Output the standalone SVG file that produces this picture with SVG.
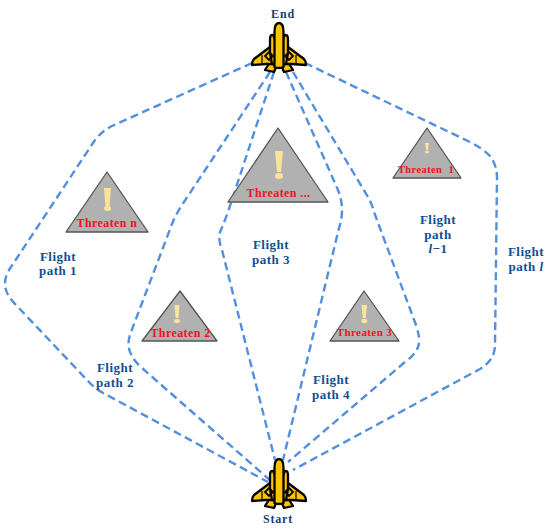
<svg xmlns="http://www.w3.org/2000/svg" width="550" height="531" viewBox="0 0 550 531">
<style>
.p{fill:none;stroke:#528fdc;stroke-width:2.4;stroke-dasharray:8 4.500}
.l{font:bold 13px "Liberation Serif",serif;fill:#0f4f96;letter-spacing:.5px;text-anchor:middle}
.t{font:bold 12px "Liberation Serif",serif;fill:#f5101c;letter-spacing:.4px;text-anchor:middle}
.tri{fill:#b1b1b1;stroke:#555;stroke-width:1.3;stroke-linejoin:round}
.ex{fill:#fbe39a}
.a{fill:#ffc400;stroke:#000;stroke-width:2.300;stroke-linejoin:round}
.n{font:bold 12px "Liberation Serif",serif;fill:#123f78;letter-spacing:.8px;text-anchor:middle}
</style>
<defs>
<g id="plane">
<path class="a" d="M-7 36L-14 47L-5 49L-2 42H2L5 49L14 47L7 36Z"/>
<path class="a" d="M-9 24L-25 36Q-27 38-27 42L-13 41H13L27 42Q27 38 25 36L9 24Z"/>
<path class="a" d="M-9 30V17Q-9 12-7 12Q-5 12-4 17H4Q5 12 7 12Q9 12 9 17V30L7 41H-7Z"/>
<path class="a" d="M-4.500 44V9Q-4.500 0 0 0Q4.500 0 4.500 9V44Q0 46-4.500 44Z"/>
<path d="M-10 29L-6 33L-10 37L-14 33Z" fill="none" stroke="#000" stroke-width="1.800"/>
<path d="M10 29L14 33L10 37L6 33Z" fill="none" stroke="#000" stroke-width="1.800"/>
<path d="M-17 32V41M17 32V41" stroke="#000" stroke-width="1.200"/>
</g>
</defs>
<g id="connectors">
<path class="p" d="M252 63L112 126Q102 131 95 140L9 270Q3 280 6 290Q8 297 16 305L88 381Q95 389 105 394L268 482"/>
<path class="p" d="M270 72L182 205Q176 214 172 224L131 332Q126 345 131 354Q134 361 142 368L272 482"/>
<path class="p" d="M274 72L228 212Q222 228 220 232Q218 240 222 250L275 460"/>
<path class="p" d="M286 72L338 190Q342 200 342 210Q342 220 339 228L283 460"/>
<path class="p" d="M293 72L368 197Q372 204 374 212L416 325Q421 340 418 347Q415 355 405 362L288 462"/>
<path class="p" d="M305 63L470 142Q482 148 490 156Q497 165 497 178L495 345Q495 360 480 369L293 470"/>
</g>
<g id="end"><text class="n" x="283" y="18">End</text><use href="#plane" x="279" y="23"/></g>
<g id="start"><use href="#plane" x="279" y="459"/><text class="n" x="278" y="523">Start</text></g>
<g id="threat-n"><path class="tri" d="M107 172L148 232H66Z"/><path class="ex" d="M104 188H111L109.500 207H105.500Z"/><ellipse class="ex" cx="107.500" cy="208.500" rx="3.500" ry="2.500"/><text class="t" x="107" y="227">Threaten n</text></g>
<g id="threat-dots"><path class="tri" d="M278 128L328 202H228Z"/><path class="ex" d="M275 151H283L281 172H277Z"/><ellipse class="ex" cx="279" cy="176" rx="4" ry="3"/><text class="t" x="278.500" y="197">Threaten ...</text></g>
<g id="threat-1"><path class="tri" d="M427 128L461 178H393Z"/><path class="ex" d="M425 143H429L428 150H426Z"/><ellipse class="ex" cx="427" cy="152" rx="1.800" ry="1.500"/><text class="t" x="426" y="173" style="font-size:10.500px" xml:space="preserve">Threaten  1</text></g>
<g id="threat-2"><path class="tri" d="M180 291L217 341H142Z"/><path class="ex" d="M174.500 305H179.500L178.500 318H175.500Z"/><ellipse class="ex" cx="177" cy="321" rx="3" ry="2"/><text class="t" x="180.500" y="337">Threaten 2</text></g>
<g id="threat-3"><path class="tri" d="M364 291L399 341H330Z"/><path class="ex" d="M361.500 305H367L365.800 318H362.700Z"/><ellipse class="ex" cx="364.300" cy="321" rx="3" ry="2.200"/><text class="t" x="364.500" y="336" style="font-size:11px">Threaten 3</text></g>
<g id="labels">
<text class="l" x="58" y="261">Flight</text><text class="l" x="58" y="275">path 1</text>
<text class="l" x="115" y="372">Flight</text><text class="l" x="115" y="387">path 2</text>
<text class="l" x="271" y="249">Flight</text><text class="l" x="271" y="264">path 3</text>
<text class="l" x="331" y="384">Flight</text><text class="l" x="331" y="399">path 4</text>
<text class="l" x="438" y="224">Flight</text><text class="l" x="438" y="239">path</text><text class="l" x="438" y="253"><tspan font-style="italic">l</tspan>−1</text>
<text class="l" x="526" y="256">Flight</text><text class="l" x="526" y="271">path <tspan font-style="italic">l</tspan></text>
</g>
</svg>
